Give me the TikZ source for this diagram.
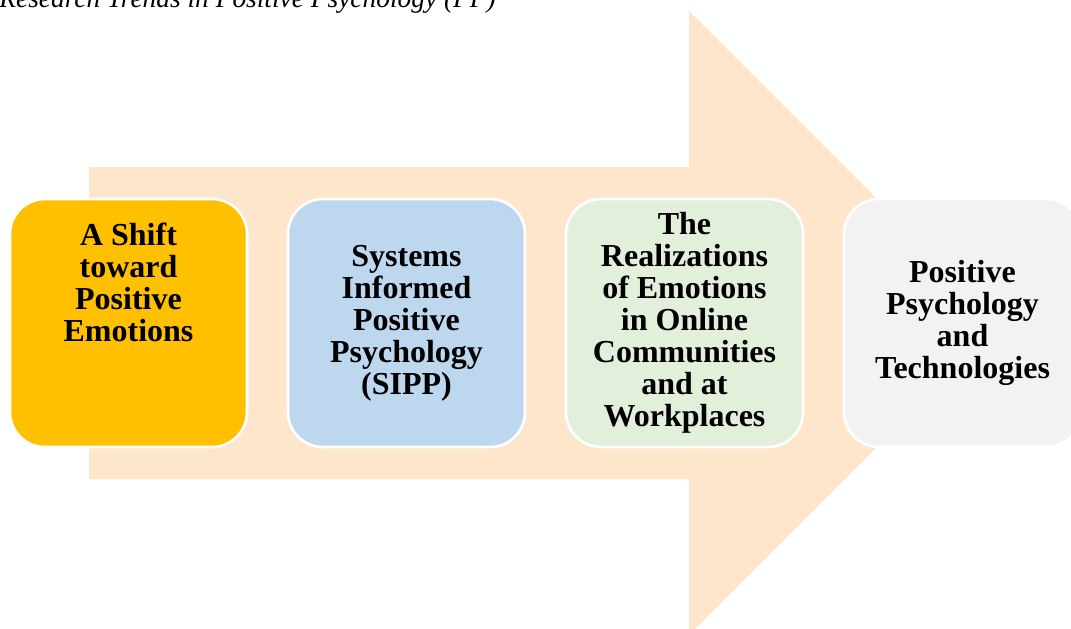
\documentclass[tikz,border=0pt]{standalone}
\usepackage{fontspec}
\setmainfont{Liberation Serif}
\usepackage{tikz}
\usetikzlibrary{positioning}
\definecolor{arrowpeach}{HTML}{FEE6CC}
\definecolor{cardgold}{HTML}{FFC000}
\definecolor{cardblue}{HTML}{BDD7EE}
\definecolor{cardgreen}{HTML}{E2EFDA}
\definecolor{cardgrey}{HTML}{F2F2F2}
\newcommand{\cardfont}{\fontsize{16pt}{16pt}\selectfont\bfseries}

\begin{document}
\begin{tikzpicture}[x=0.5pt, y=-0.5pt,
    card/.style = {draw=white, line width=1.3pt, rounded corners=17.5pt,
        minimum width=118.5pt, minimum height=124pt, align=center,
        font=\cardfont, inner sep=2pt},
    cardtext/.style = {align=center, font=\cardfont, inner sep=0pt}]
    \useasboundingbox (0,0) rectangle (1071,628);

    % big background arrow
    \fill[arrowpeach] (89,167) -- (689,167) -- (689,11) -- (1001,323)
        -- (689,635) -- (689,479) -- (89,479) -- cycle;

    \node[anchor=base west, font=\fontsize{13.7pt}{16pt}\selectfont\itshape, inner sep=0pt]
        (title) at (-1,7) {Research Trends in Positive Psychology (PP)};

    \node[card, fill=cardgold] (shift) at (128.5,323) {};
    \node[cardtext, anchor=north] (shifttext) at ([yshift=-12.5pt]shift.north)
        {A Shift\\toward\\Positive\\Emotions};
    \node[card, fill=cardblue, right=19.2pt of shift] (sipp)
        {Systems\\Informed\\Positive\\Psychology\\(SIPP)};
    \node[card, fill=cardgreen, right=19.2pt of sipp] (online)
        {The\\Realizations\\of Emotions\\in Online\\Communities\\and at\\Workplaces};
    \node[card, fill=cardgrey, right=19.2pt of online] (tech)
        {Positive\\Psychology\\and\\Technologies};

\end{tikzpicture}
\end{document}
